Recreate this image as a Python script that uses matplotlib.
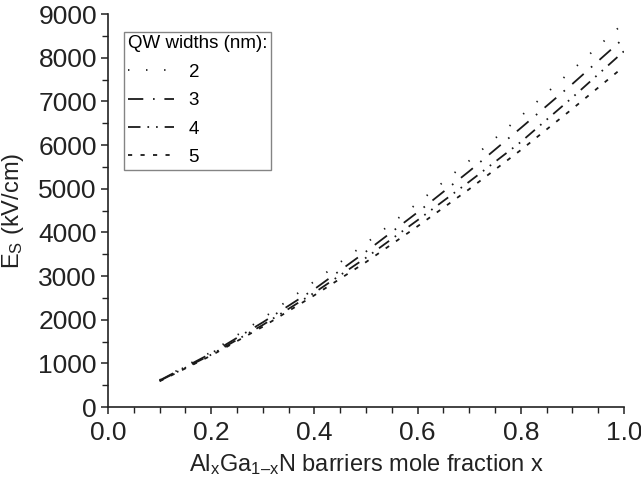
import matplotlib
matplotlib.use("Agg")
import matplotlib.pyplot as plt
from matplotlib.ticker import MultipleLocator

plt.rcParams['font.family'] = ['Liberation Sans', 'DejaVu Sans']
plt.rcParams['mathtext.fontset'] = 'custom'
plt.rcParams['mathtext.rm'] = 'Liberation Sans'
plt.rcParams['mathtext.it'] = 'Liberation Sans:italic'
plt.rcParams['lines.scale_dashes'] = False

x = [0.1, 0.2, 0.3, 0.4, 0.5, 0.6, 0.7, 0.8, 0.9, 1.0]
es_2nm = [620, 1260, 2030, 2880, 3750, 4670, 5640, 6660, 7720, 8800]
es_3nm = [610, 1230, 1940, 2700, 3560, 4460, 5400, 6390, 7400, 8450]
es_4nm = [600, 1200, 1880, 2620, 3420, 4280, 5160, 6070, 7090, 8150]
es_5nm = [590, 1180, 1840, 2560, 3320, 4140, 4990, 5885, 6830, 7800]
labels = ['2', '3', '4', '5']
xticks = [0.0, 0.2, 0.4, 0.6, 0.8, 1.0]
yticks = [0, 1000, 2000, 3000, 4000, 5000, 6000, 7000, 8000, 9000]

styles = [
    (0, (1.0, 12.0)),
    (0, (11.0, 7.0, 1.2, 7.0)),
    (0, (9.0, 5.0, 1.2, 5.0, 1.2, 5.0)),
    (0, (3.0, 6.0)),
]

fig = plt.figure(figsize=(6.41, 4.84), dpi=100)
ax = fig.add_axes([0.1685, 0.159, 0.805, 0.812])

for ys, lab, ls in zip([es_2nm, es_3nm, es_4nm, es_5nm], labels, styles):
    ax.plot(x, ys, color='#1a1a1a', lw=1.3, linestyle=ls, label=lab)

ax.set_xlim(0.0, 1.0)
ax.set_ylim(0, 9000)
ax.set_xticks(xticks)
ax.set_xticklabels([f'{t:.1f}' for t in xticks])
ax.set_yticks(yticks)
ax.xaxis.set_minor_locator(MultipleLocator(0.05))
ax.yaxis.set_minor_locator(MultipleLocator(500))
ax.spines['top'].set_visible(False)
ax.spines['right'].set_visible(False)
for s in ['left', 'bottom']:
    ax.spines[s].set_linewidth(1.2)
    ax.spines[s].set_color('#222222')
ax.tick_params(which='major', direction='out', length=5, width=1.1, labelsize=19, colors='#222222')
ax.tick_params(which='minor', direction='out', length=4, width=1.0, colors='#222222')
ax.tick_params(axis='x', pad=5)
ax.tick_params(axis='y', pad=3)

ax.set_xlabel(r'Al$_{\mathrm{x}}$Ga$_{\mathrm{1–x}}$N barriers mole fraction x', fontsize=17, color='#222222', labelpad=5)
ax.set_ylabel(r'E$_{\mathrm{S}}$ (kV/cm)', fontsize=17, color='#222222', labelpad=9)

leg = ax.legend(title='QW widths (nm):', loc='upper left', bbox_to_anchor=(0.031, 0.955),
                fontsize=13.5, title_fontsize=13.5, frameon=True, fancybox=False,
                edgecolor='#666666', handlelength=2.45, handletextpad=0.8,
                labelspacing=0.6, borderpad=0.2, borderaxespad=0)
leg.get_frame().set_linewidth(1.0)
leg._legend_box.align = 'left'

fig.savefig('out.png', dpi=100)
